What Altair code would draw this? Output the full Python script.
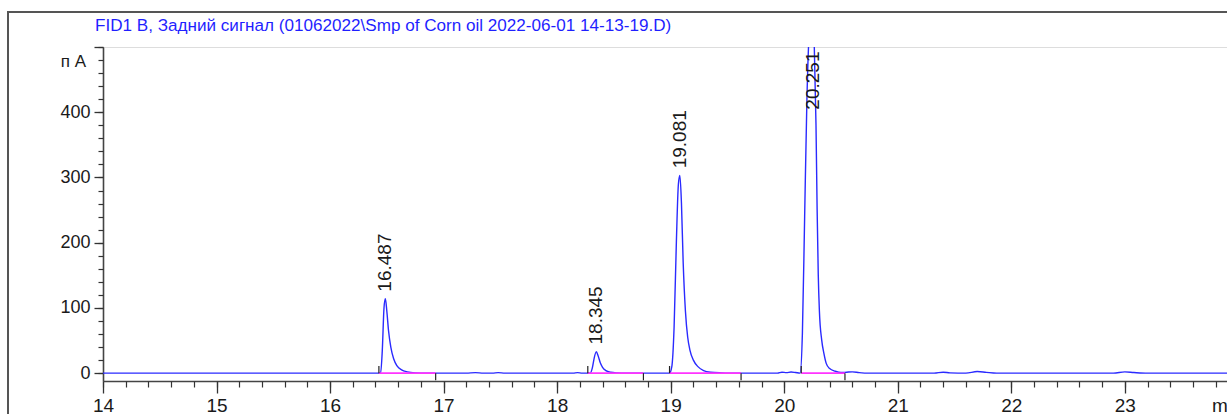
import altair as alt
import pandas as pd

# ---- chromatogram trace: retention time (min) and FID signal (pA) ----
lead_t = [14.0, 16.44]
lead_v = [0, 0]

pk1_t = [16.445, 16.46, 16.475, 16.487, 16.50, 16.515, 16.535, 16.56, 16.59, 16.63, 16.68, 16.75, 16.85]
pk1_v = [0, 35, 100, 114, 95, 65, 40, 22, 11, 5, 2, 0.5, 0]

gap1_t = [17.2, 17.28, 17.35, 17.43, 17.48, 17.54, 18.14, 18.18, 18.22]
gap1_v = [0, 0.8, 0, 0, 0.8, 0, 0, 0.8, 0]

pk2_t = [18.29, 18.31, 18.325, 18.345, 18.36, 18.38, 18.40, 18.43, 18.47, 18.53, 18.60]
pk2_v = [0, 8, 22, 33, 27, 16, 9, 4, 1.5, 0.4, 0]

pk3_t = [18.99, 19.01, 19.03, 19.05, 19.068, 19.081, 19.095, 19.11, 19.13, 19.15,
         19.17, 19.20, 19.24, 19.29, 19.35, 19.45, 19.55]
pk3_v = [0, 10, 70, 200, 290, 303, 260, 170, 95, 55, 35, 20, 10, 4, 1.5, 0.5, 0]

gap2_t = [19.94, 19.98, 20.02, 20.06, 20.10, 20.14]
gap2_v = [0, 1.5, 0.8, 1.8, 1.0, 0]

pk4_t = [20.16, 20.18, 20.20, 20.22, 20.24, 20.251, 20.265, 20.28, 20.29, 20.30,
         20.31, 20.33, 20.35, 20.37, 20.40, 20.45, 20.50]
pk4_v = [60, 240, 420, 520, 545, 550, 500, 380, 250, 150, 95, 51, 30, 15, 7, 3, 1]

tail_t = [20.55, 20.60, 20.66, 20.75, 21.32, 21.40, 21.46, 21.60, 21.70, 21.78, 21.87,
          22.90, 23.00, 23.08, 23.20, 23.90]
tail_v = [1.5, 2, 0.8, 0, 0, 1.5, 0.5, 0, 2.5, 1.2, 0, 0, 2, 1, 0, 0]

trace = pd.DataFrame({
    "t": lead_t + pk1_t + gap1_t + pk2_t + pk3_t + gap2_t + pk4_t + tail_t,
    "pA": lead_v + pk1_v + gap1_v + pk2_v + pk3_v + gap2_v + pk4_v + tail_v,
})

# ---- integration events ----
peak_rt = [16.487, 18.345, 19.081, 20.251]
peak_label_at = [125, 44, 314, 404]
base_start = [16.43, 18.27, 18.99, 20.15]
base_end = [16.93, 18.76, 19.62, 20.535]

peaks = pd.DataFrame({"rt": peak_rt, "lab_y": peak_label_at,
                      "rt_text": [f"{v:.3f}" for v in peak_rt]})
bases = pd.DataFrame({"start": base_start, "end": base_end,
                      "zero": [0] * 4, "up": [11] * 4, "down": [-11] * 4})

major_x = list(range(14, 24))
minor_x = [round(14 + 0.2 * i, 1) for i in range(0, 50)]
major_y = [0, 100, 200, 300, 400, 500]
minor_y = list(range(0, 501, 20))

TITLE = "FID1 B, Задний сигнал (01062022\\Smp of Corn oil 2022-06-01 14-13-19.D)"
FONT = "Liberation Sans"
AX = "#333333"

xs = alt.Scale(domain=[14, 23.9], nice=False, zero=False)
ys = alt.Scale(domain=[-12, 500], nice=False, zero=False)

x_major = alt.Axis(values=major_x, orient="bottom", tickSize=12, tickColor=AX, tickWidth=1.3,
                   domainColor="#444444", domainWidth=1.6, labelFont=FONT, labelFontSize=19,
                   labelColor="#1a1a1a", labelPadding=3, grid=False, title=None,
                   labelFlush=False, labelOverlap=False)
y_major = alt.Axis(values=major_y, orient="left", tickSize=9, tickColor=AX, tickWidth=1.3,
                   domainColor="#444444", domainWidth=1.6, labelFont=FONT, labelFontSize=18,
                   labelColor="#1a1a1a", labelPadding=4, grid=False, title=None,
                   labelExpr="datum.value >= 500 ? '' : datum.label", labelOverlap=False)
x_minor = alt.Axis(values=minor_x, orient="bottom", tickSize=6, tickColor=AX, tickWidth=1.2,
                   domain=False, labels=False, grid=False, title=None)
y_minor = alt.Axis(values=minor_y, orient="left", tickSize=5, tickColor=AX, tickWidth=1.2,
                   domain=False, labels=False, grid=False, title=None)

signal = alt.Chart(trace).mark_line(color="#2a2aff", strokeWidth=1.4, clip=True,
                                    interpolate="monotone").encode(
    x=alt.X("t:Q", scale=xs, axis=x_major),
    y=alt.Y("pA:Q", scale=ys, axis=y_major),
)

baselines = alt.Chart(bases).mark_rule(color="#ff33ff", strokeWidth=1.6).encode(
    x=alt.X("start:Q", scale=xs, axis=x_minor),
    x2="end:Q",
    y=alt.Y("zero:Q", scale=ys, axis=y_minor),
)

start_marks = alt.Chart(bases).mark_rule(color="#222222", strokeWidth=1.2).encode(
    x=alt.X("start:Q", scale=xs, axis=None),
    y=alt.Y("zero:Q", scale=ys, axis=None), y2="up:Q")
end_marks = alt.Chart(bases).mark_rule(color="#222222", strokeWidth=1.2).encode(
    x=alt.X("end:Q", scale=xs, axis=None),
    y=alt.Y("zero:Q", scale=ys, axis=None), y2="down:Q")

labels = alt.Chart(peaks).mark_text(angle=270, align="left", baseline="middle",
                                    font=FONT, fontSize=19, color="#1a1a1a").encode(
    x=alt.X("rt:Q", scale=xs, axis=None),
    y=alt.Y("lab_y:Q", scale=ys, axis=None), text="rt_text:N")

one = pd.DataFrame({"k": [0]})
title = alt.Chart(one).mark_text(align="left", baseline="alphabetic", font=FONT,
                                 fontSize=17.1, color="#1f1fff").encode(
    x=alt.value(-8), y=alt.value(-16), text=alt.value(TITLE))
unit = alt.Chart(one).mark_text(align="right", baseline="alphabetic", font=FONT,
                                fontSize=17, color="#1a1a1a").encode(
    x=alt.value(-17), y=alt.value(20), text=alt.value("п А"))
minutes = alt.Chart(one).mark_text(align="left", baseline="alphabetic", font=FONT,
                                   fontSize=19, color="#1a1a1a").encode(
    x=alt.value(1109), y=alt.value(365), text=alt.value("min"))
frame = alt.Chart(one).mark_rect(filled=False, stroke="#555555", strokeWidth=2).encode(
    x=alt.value(-95), x2=alt.value(1300), y=alt.value(-35), y2=alt.value(600))

chart = alt.layer(signal, baselines, start_marks, end_marks, labels,
                  title, unit, minutes, frame).resolve_axis(
    x="independent", y="independent"
).properties(
    width=1124, height=334,
    autosize=alt.AutoSizeParams(type="none"),
    padding={"left": 103, "top": 47, "right": 0, "bottom": 33},
).configure_view(strokeWidth=0).configure(background="white")

chart.save("out.html", embed_options={"renderer": "svg", "actions": False})
